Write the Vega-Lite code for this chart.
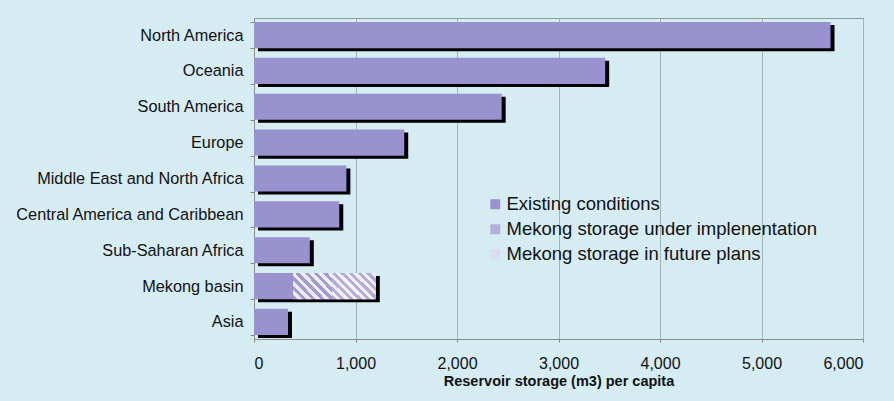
{
  "$schema": "https://vega.github.io/schema/vega-lite/v6.json",
  "width": 609,
  "height": 321,
  "autosize": "none",
  "padding": {"left": 254, "top": 18, "right": 31, "bottom": 62},
  "background": "#d5ecf3",
  "config": {
    "view": {"stroke": "#8f9a9e", "strokeWidth": 1},
    "font": "Liberation Sans"
  },
  "data": {
    "values": [
      {"region": "North America", "type": "Existing conditions", "o": 1, "value": 5680},
      {"region": "Oceania", "type": "Existing conditions", "o": 1, "value": 3460},
      {"region": "South America", "type": "Existing conditions", "o": 1, "value": 2440},
      {"region": "Europe", "type": "Existing conditions", "o": 1, "value": 1480},
      {"region": "Middle East and North Africa", "type": "Existing conditions", "o": 1, "value": 910},
      {"region": "Central America and Caribbean", "type": "Existing conditions", "o": 1, "value": 840},
      {"region": "Sub-Saharan Africa", "type": "Existing conditions", "o": 1, "value": 550},
      {"region": "Mekong basin", "type": "Existing conditions", "o": 1, "value": 385},
      {"region": "Mekong basin", "type": "Mekong storage under implenentation", "o": 2, "value": 385},
      {"region": "Mekong basin", "type": "Mekong storage in future plans", "o": 3, "value": 430},
      {"region": "Asia", "type": "Existing conditions", "o": 1, "value": 335}
    ]
  },
  "encoding": {
    "y": {
      "field": "region",
      "type": "nominal",
      "sort": ["North America", "Oceania", "South America", "Europe", "Middle East and North Africa", "Central America and Caribbean", "Sub-Saharan Africa", "Mekong basin", "Asia"],
      "scale": {"paddingInner": 0.27, "paddingOuter": 0.11},
      "axis": {
        "title": null,
        "labelFontSize": 16.3,
        "labelColor": "#111111",
        "labelPadding": 7,
        "labelLimit": 300,
        "tickBand": "extent",
        "tickSize": 4,
        "tickColor": "#8a8a8a",
        "domainColor": "#8a8a8a"
      }
    }
  },
  "layer": [
    {
      "transform": [
        {"aggregate": [{"op": "sum", "field": "value", "as": "total"}], "groupby": ["region"]}
      ],
      "mark": {"type": "bar", "color": "#000000", "xOffset": 4, "x2Offset": 3, "yOffset": 3, "y2Offset": 3},
      "encoding": {
        "x": {
          "field": "total",
          "type": "quantitative",
          "scale": {"domain": [0, 6000]},
          "axis": {
            "title": "Reservoir storage (m3) per capita",
            "titleFontSize": 14.5,
            "titleFontWeight": "bold",
            "titleColor": "#111111",
            "titlePadding": 3,
            "format": ",.0f",
            "values": [0, 1000, 2000, 3000, 4000, 5000, 6000],
            "labelFontSize": 16,
            "labelColor": "#111111",
            "labelPadding": 13,
            "tickSize": 3,
            "tickColor": "#8a8a8a",
            "domainColor": "#8a8a8a",
            "grid": true,
            "gridColor": "#a3b3b8",
            "gridWidth": 1
          }
        }
      }
    },
    {
      "transform": [
        {"stack": "value", "groupby": ["region"], "sort": [{"field": "o", "order": "ascending"}], "as": ["s0", "s1"]}
      ],
      "mark": {"type": "bar"},
      "encoding": {
        "x": {"field": "s0", "type": "quantitative"},
        "x2": {"field": "s1"},
        "color": {
          "field": "type",
          "type": "nominal",
          "scale": {
            "domain": ["Existing conditions", "Mekong storage under implenentation", "Mekong storage in future plans"],
            "range": ["#9a92cf", "#b4aedb", "#dddbf0"]
          },
          "legend": {
            "title": null,
            "orient": "none",
            "legendX": 232,
            "legendY": 177,
            "symbolType": "square",
            "symbolSize": 100,
            "symbolStrokeWidth": 0,
            "labelFontSize": 18.5,
            "labelColor": "#111111",
            "labelLimit": 400,
            "rowPadding": 6,
            "labelOffset": 2
          }
        }
      }
    },
    {
      "transform": [
        {"stack": "value", "groupby": ["region"], "sort": [{"field": "o", "order": "ascending"}], "as": ["s0", "s1"]},
        {"filter": "datum.o == 2"}
      ],
      "mark": {
        "type": "bar",
        "color": {
          "gradient": "linear", "x1": 0, "y1": 1, "x2": 1.15, "y2": 0.25,
          "stops": [
            {"offset": 0, "color": "#a39bd4"}, {"offset": 0.0714, "color": "#a39bd4"},
            {"offset": 0.0714, "color": "#eeedf8"}, {"offset": 0.1429, "color": "#eeedf8"},
            {"offset": 0.1429, "color": "#a39bd4"}, {"offset": 0.2143, "color": "#a39bd4"},
            {"offset": 0.2143, "color": "#eeedf8"}, {"offset": 0.2857, "color": "#eeedf8"},
            {"offset": 0.2857, "color": "#a39bd4"}, {"offset": 0.3571, "color": "#a39bd4"},
            {"offset": 0.3571, "color": "#eeedf8"}, {"offset": 0.4286, "color": "#eeedf8"},
            {"offset": 0.4286, "color": "#a39bd4"}, {"offset": 0.5, "color": "#a39bd4"},
            {"offset": 0.5, "color": "#eeedf8"}, {"offset": 0.5714, "color": "#eeedf8"},
            {"offset": 0.5714, "color": "#a39bd4"}, {"offset": 0.6429, "color": "#a39bd4"},
            {"offset": 0.6429, "color": "#eeedf8"}, {"offset": 0.7143, "color": "#eeedf8"},
            {"offset": 0.7143, "color": "#a39bd4"}, {"offset": 0.7857, "color": "#a39bd4"},
            {"offset": 0.7857, "color": "#eeedf8"}, {"offset": 0.8571, "color": "#eeedf8"},
            {"offset": 0.8571, "color": "#a39bd4"}, {"offset": 0.9286, "color": "#a39bd4"},
            {"offset": 0.9286, "color": "#eeedf8"}, {"offset": 1, "color": "#eeedf8"}
          ]
        }
      },
      "encoding": {
        "x": {"field": "s0", "type": "quantitative"},
        "x2": {"field": "s1"}
      }
    },
    {
      "transform": [
        {"stack": "value", "groupby": ["region"], "sort": [{"field": "o", "order": "ascending"}], "as": ["s0", "s1"]},
        {"filter": "datum.o == 3"}
      ],
      "mark": {
        "type": "bar",
        "color": {
          "gradient": "linear", "x1": 0, "y1": 1, "x2": 1.15, "y2": 0.3,
          "stops": [
            {"offset": 0, "color": "#b3acdc"}, {"offset": 0.0625, "color": "#b3acdc"},
            {"offset": 0.0625, "color": "#f3f2fa"}, {"offset": 0.125, "color": "#f3f2fa"},
            {"offset": 0.125, "color": "#b3acdc"}, {"offset": 0.1875, "color": "#b3acdc"},
            {"offset": 0.1875, "color": "#f3f2fa"}, {"offset": 0.25, "color": "#f3f2fa"},
            {"offset": 0.25, "color": "#b3acdc"}, {"offset": 0.3125, "color": "#b3acdc"},
            {"offset": 0.3125, "color": "#f3f2fa"}, {"offset": 0.375, "color": "#f3f2fa"},
            {"offset": 0.375, "color": "#b3acdc"}, {"offset": 0.4375, "color": "#b3acdc"},
            {"offset": 0.4375, "color": "#f3f2fa"}, {"offset": 0.5, "color": "#f3f2fa"},
            {"offset": 0.5, "color": "#b3acdc"}, {"offset": 0.5625, "color": "#b3acdc"},
            {"offset": 0.5625, "color": "#f3f2fa"}, {"offset": 0.625, "color": "#f3f2fa"},
            {"offset": 0.625, "color": "#b3acdc"}, {"offset": 0.6875, "color": "#b3acdc"},
            {"offset": 0.6875, "color": "#f3f2fa"}, {"offset": 0.75, "color": "#f3f2fa"},
            {"offset": 0.75, "color": "#b3acdc"}, {"offset": 0.8125, "color": "#b3acdc"},
            {"offset": 0.8125, "color": "#f3f2fa"}, {"offset": 0.875, "color": "#f3f2fa"},
            {"offset": 0.875, "color": "#b3acdc"}, {"offset": 0.9375, "color": "#b3acdc"},
            {"offset": 0.9375, "color": "#f3f2fa"}, {"offset": 1, "color": "#f3f2fa"}
          ]
        }
      },
      "encoding": {
        "x": {"field": "s0", "type": "quantitative"},
        "x2": {"field": "s1"}
      }
    }
  ]
}
